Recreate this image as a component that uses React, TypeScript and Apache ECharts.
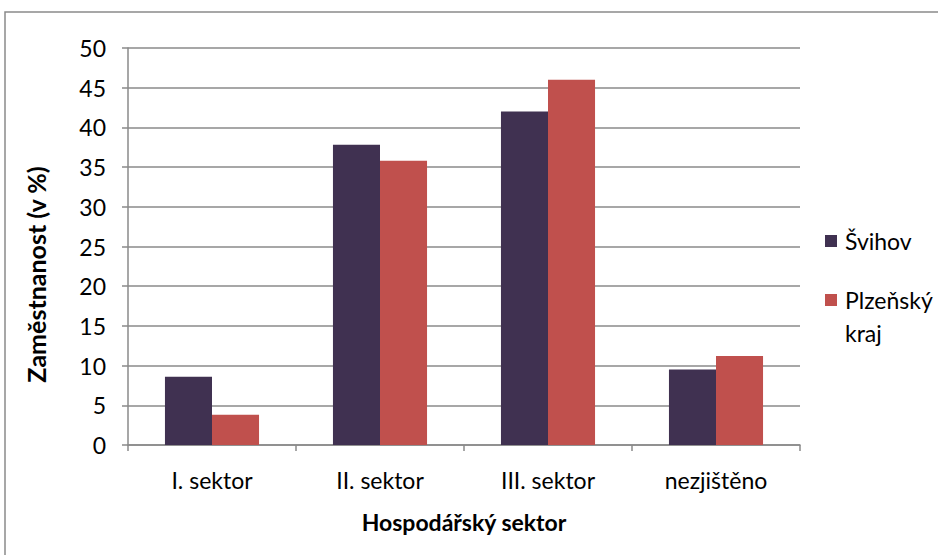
import React, { useEffect, useRef } from "react";
import * as echarts from "echarts";

const categories = ["I. sektor", "II. sektor", "III. sektor", "nezjištěno"];
const svihov = [8.6, 37.8, 42.0, 9.5];
const plzensky = [3.8, 35.8, 46.0, 11.2];
const seriesNames = ["Švihov", "Plzeňský kraj"];
const yTicks = { min: 0, max: 50, interval: 5 };

const FONT = "Lato, 'Open Sans', sans-serif";
const GRID = "#8a8a8a";
const FS = 23;

export default function App() {
  const ref = useRef<HTMLDivElement>(null);
  useEffect(() => {
    if (!ref.current) return;
    const chart = echarts.init(ref.current, undefined, { renderer: "svg" });
    chart.setOption({
      animation: false,
      backgroundColor: "#fff",
      textStyle: { fontFamily: FONT },
      grid: { left: 128, right: 138, top: 48, bottom: 110, containLabel: false },
      xAxis: {
        type: "category",
        data: categories,
        name: "Hospodářský sektor",
        nameLocation: "middle",
        nameGap: 65,
        nameTextStyle: { fontSize: 23, fontWeight: "bold", color: "#000", fontFamily: FONT },
        axisLine: { lineStyle: { color: GRID, width: 1.5 } },
        axisTick: { show: true, length: 6, lineStyle: { color: GRID, width: 1.5 } },
        axisLabel: { fontSize: FS, color: "#000", margin: 23, fontFamily: FONT },
      },
      yAxis: {
        type: "value",
        min: yTicks.min,
        max: yTicks.max,
        interval: yTicks.interval,
        name: "Zaměstnanost (v %)",
        nameLocation: "middle",
        nameGap: 80,
        nameTextStyle: {
          fontSize: 25,
          fontWeight: "bold",
          color: "#000",
          fontFamily: FONT,
          padding: [0, 56, 0, 0],
        },
        axisLine: { show: true, lineStyle: { color: GRID, width: 1.5 } },
        axisTick: { show: true, length: 6, lineStyle: { color: GRID, width: 1.5 } },
        axisLabel: { fontSize: FS, color: "#000", margin: 22, fontFamily: FONT },
        splitLine: { lineStyle: { color: GRID, width: 1.5 } },
      },
      series: [
        {
          name: seriesNames[0],
          type: "bar",
          data: svihov,
          barGap: "0%",
          barCategoryGap: "44%",
          itemStyle: { color: "#403151" },
        },
        {
          name: seriesNames[1],
          type: "bar",
          data: plzensky,
          itemStyle: { color: "#C0504D" },
        },
      ],
      graphic: [
        {
          type: "rect",
          shape: { x: 5, y: 12, width: 1000, height: 700 },
          style: { fill: "none", stroke: "#8a8a8a", lineWidth: 1.5 },
          silent: true,
        },
        {
          type: "rect",
          shape: { x: 825, y: 235, width: 12, height: 12 },
          style: { fill: "#403151" },
        },
        {
          type: "text",
          x: 845,
          y: 241,
          style: { text: seriesNames[0], fontSize: FS, fill: "#000", fontFamily: FONT, verticalAlign: "middle" },
        },
        {
          type: "rect",
          shape: { x: 825, y: 294, width: 12, height: 12 },
          style: { fill: "#C0504D" },
        },
        {
          type: "text",
          x: 845,
          y: 300,
          style: { text: "Plzeňský", fontSize: FS, fill: "#000", fontFamily: FONT, verticalAlign: "middle" },
        },
        {
          type: "text",
          x: 845,
          y: 333,
          style: { text: "kraj", fontSize: FS, fill: "#000", fontFamily: FONT, verticalAlign: "middle" },
        },
      ],
    });
    return () => chart.dispose();
  }, []);
  return (
    <div
      ref={ref}
      style={{ position: "fixed", left: 0, top: 0, width: 938, height: 555 }}
    />
  );
}
